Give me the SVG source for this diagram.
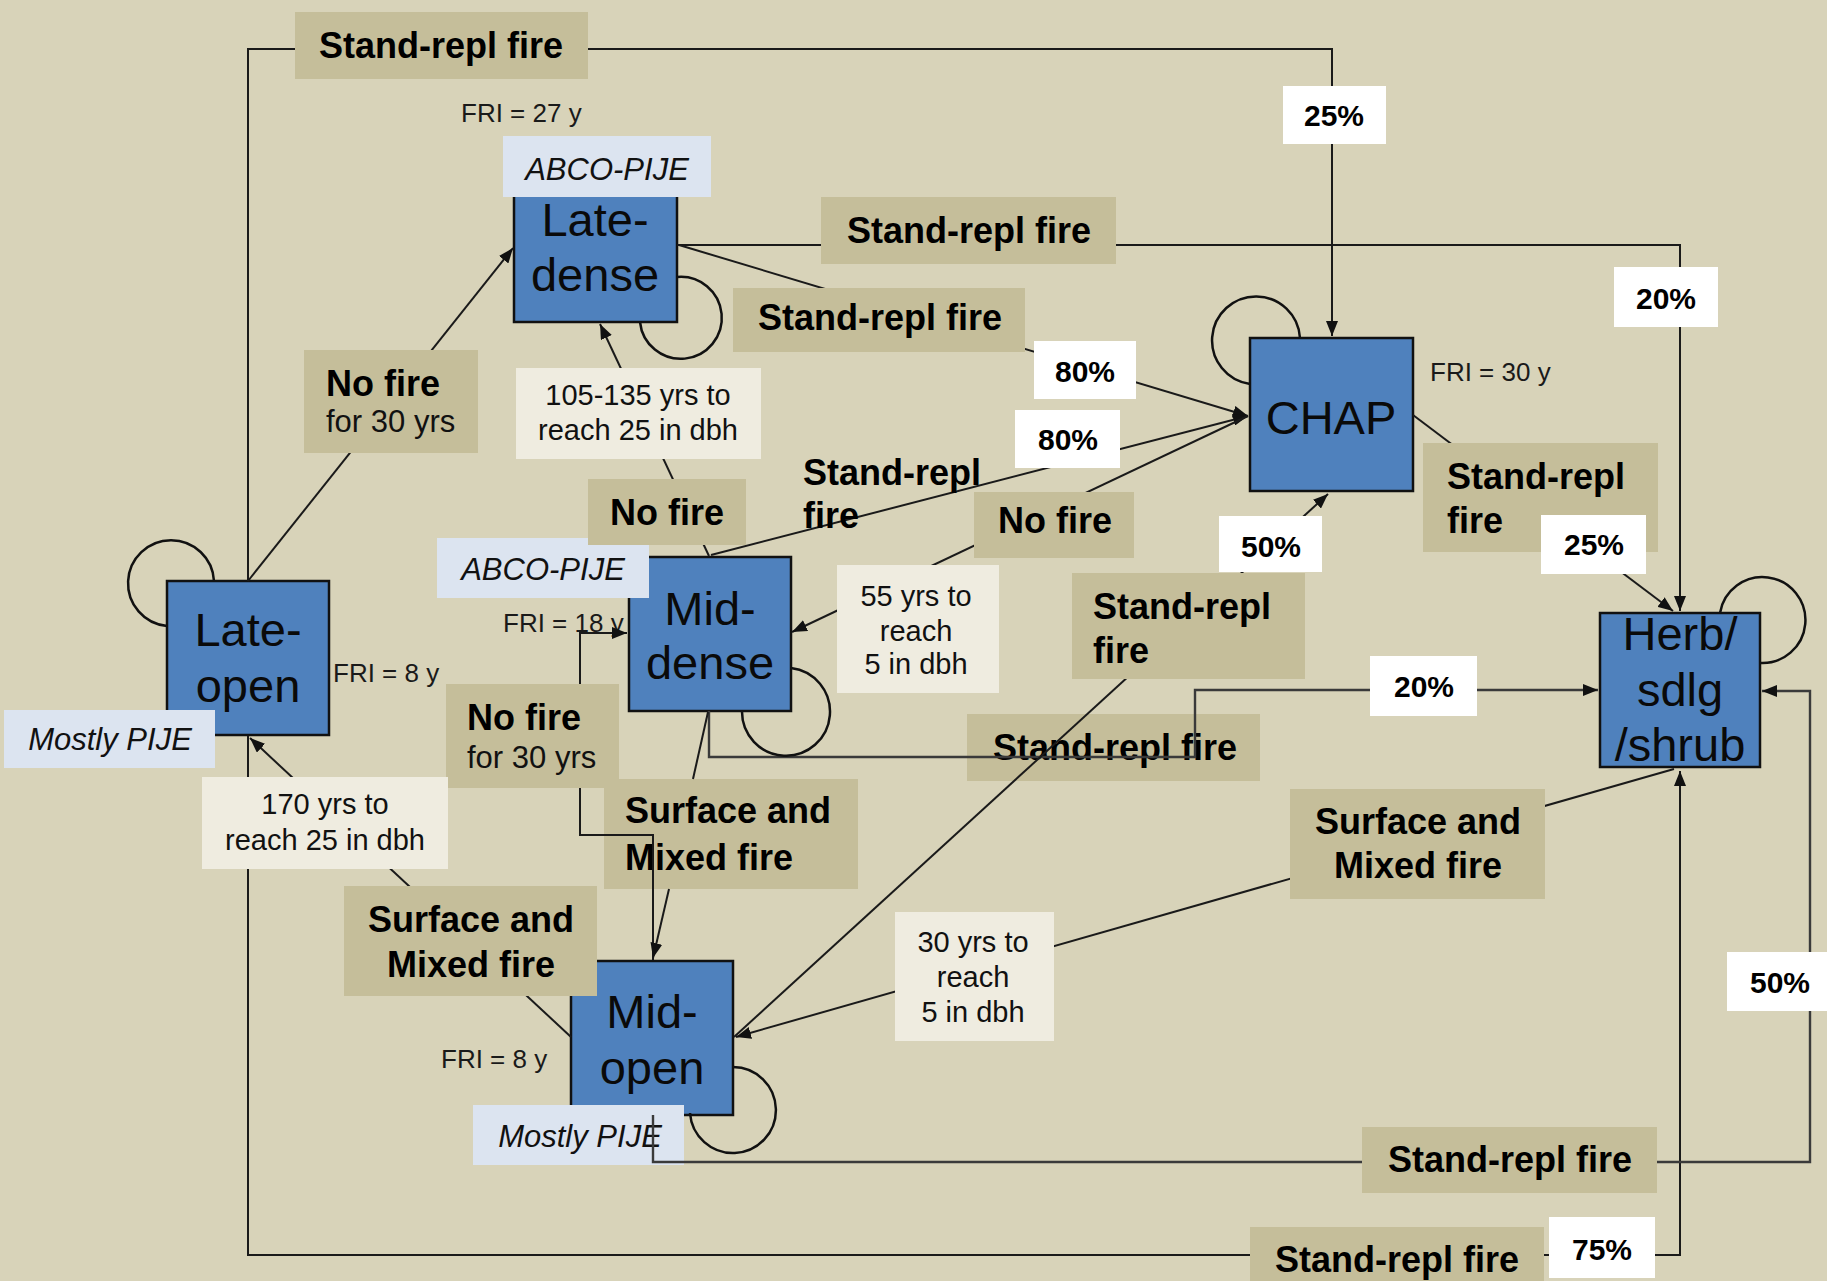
<svg xmlns="http://www.w3.org/2000/svg" width="1827" height="1281" viewBox="0 0 1827 1281">
<defs>
<marker id="arr" markerUnits="userSpaceOnUse" markerWidth="16" markerHeight="12" refX="15" refY="6" orient="auto"><path d="M0,0 L15,6 L0,12 z" fill="#111"/></marker>
<style>
.bg{fill:#D8D3B9}
.node rect.box{fill:#4F81BD;stroke:#111;stroke-width:2.5}
.nt{font-family:"Liberation Sans",Arial,sans-serif;font-size:47px;fill:#0a0a0a;text-anchor:middle}
.tan{fill:#C5BE9A}
.pale{fill:#EFECE0}
.blu{fill:#DCE4F0}
.wht{fill:#FFFFFF}
.b{font-family:"Liberation Sans",Arial,sans-serif;font-weight:bold;font-size:36px;fill:#000}
.r{font-family:"Liberation Sans",Arial,sans-serif;font-size:29px;fill:#111}
.r31{font-family:"Liberation Sans",Arial,sans-serif;font-size:31px;fill:#111}
.it{font-family:"Liberation Sans",Arial,sans-serif;font-style:italic;font-size:31px;fill:#111;text-anchor:middle}
.fri{font-family:"Liberation Sans",Arial,sans-serif;font-size:26px;fill:#1a1a1a}
.pct{font-family:"Liberation Sans",Arial,sans-serif;font-weight:bold;font-size:30px;fill:#000;text-anchor:middle}
.m{text-anchor:middle}
.ln{fill:none;stroke:#1a1a1a;stroke-width:2}
.gl{fill:none;stroke:#3a3a3a;stroke-width:2.4}
.loop{fill:none;stroke:#111;stroke-width:2.5}
</style>
</defs>
<rect class="bg" x="0" y="0" width="1827" height="1281"/>

<g id="late-dense" class="node">
<rect class="box" x="514" y="192" width="163" height="130"/>
<text class="nt" x="595" y="236">Late-</text>
<text class="nt" x="595" y="291">dense</text>
<rect class="blu" x="503" y="136" width="208" height="61"/>
<text class="it" x="607" y="180">ABCO-PIJE</text>
<text class="fri" x="461" y="122">FRI = 27 y</text>
</g>
<g id="late-open" class="node">
<rect class="box" x="167" y="581" width="162" height="154"/>
<text class="nt" x="248" y="646">Late-</text>
<text class="nt" x="248" y="702">open</text>
<rect class="blu" x="4" y="710" width="211" height="58"/>
<text class="it" x="110" y="750">Mostly PIJE</text>
<text class="fri" x="333" y="682">FRI = 8 y</text>
</g>
<g id="mid-dense" class="node">
<rect class="box" x="629" y="557" width="162" height="154"/>
<text class="nt" x="710" y="625">Mid-</text>
<text class="nt" x="710" y="679">dense</text>
<rect class="blu" x="437" y="538" width="212" height="60"/>
<text class="it" x="543" y="580">ABCO-PIJE</text>
<text class="fri" x="503" y="632">FRI = 18 y</text>
</g>
<g id="mid-open" class="node">
<rect class="box" x="571" y="961" width="162" height="154"/>
<text class="nt" x="652" y="1028">Mid-</text>
<text class="nt" x="652" y="1084">open</text>
<rect class="blu" x="473" y="1105" width="211" height="60"/>
<text class="it" x="580" y="1147">Mostly PIJE</text>
<text class="fri" x="441" y="1068">FRI = 8 y</text>
</g>
<g id="chap" class="node">
<rect class="box" x="1250" y="338" width="163" height="153"/>
<text class="nt" x="1331" y="434">CHAP</text>
<text class="fri" x="1430" y="381">FRI = 30 y</text>
</g>
<g id="herb" class="node">
<rect class="box" x="1600" y="613" width="160" height="154"/>
<text class="nt" x="1680" y="650">Herb/</text>
<text class="nt" x="1680" y="706">sdlg</text>
<text class="nt" x="1680" y="761">/shrub</text>
</g>

<g id="labels-under">
<rect class="tan" x="967" y="714" width="293" height="67"/>
<text class="b m" x="1115" y="760">Stand-repl fire</text>
<rect class="tan" x="604" y="779" width="254" height="110"/>
<text class="b" x="625" y="823">Surface and</text>
<text class="b" x="625" y="870">Mixed fire</text>
</g>

<g id="connectors">
<path class="ln" d="M248,581 V49 H1332 V336" marker-end="url(#arr)"/>
<path class="ln" d="M248,736 V1255 H1680 V771" marker-end="url(#arr)"/>
<path class="ln" d="M248,581 L513,248" marker-end="url(#arr)"/>
<path class="ln" d="M677,245 H1680 V611" marker-end="url(#arr)"/>
<path class="ln" d="M679,245 L1248,416" marker-end="url(#arr)"/>
<path class="ln" d="M711,555 L1248,416" marker-end="url(#arr)"/>
<path class="ln" d="M1248,416 L792,632" marker-end="url(#arr)"/>
<path class="ln" d="M709,556 L600,324" marker-end="url(#arr)"/>
<path class="ln" d="M653,960 V835 H580 V633 H627" marker-end="url(#arr)"/>
<path class="gl" d="M709,711 V757 H1195 V690 H1598" marker-end="url(#arr)"/>
<path class="ln" d="M708,712 L693,779"/>
<path class="ln" d="M669,889 L653,958" marker-end="url(#arr)"/>
<path class="ln" d="M734,1037 L1328,494" marker-end="url(#arr)"/>
<path class="gl" d="M653,1115 V1162 H1810 V691 H1762" marker-end="url(#arr)"/>
<path class="ln" d="M1674,769 L736,1037" marker-end="url(#arr)"/>
<path class="ln" d="M571,1037 L250,738" marker-end="url(#arr)"/>
<path class="ln" d="M1413,415 L1673,611" marker-end="url(#arr)"/>
<path class="loop" d="M677,277 A41,41 0 1,1 640,322"/>
<path class="loop" d="M214,581 A43,43 0 1,0 167,626"/>
<path class="loop" d="M791,668 A44,44 0 1,1 742,711"/>
<path class="loop" d="M733,1067 A43,43 0 1,1 690,1113"/>
<path class="loop" d="M1300,338 A44,44 0 1,0 1250,384"/>
<path class="loop" d="M1720,613 A43,43 0 1,1 1760,663"/>
</g>

<g id="labels">
<rect class="tan" x="295" y="12" width="293" height="67"/>
<text class="b m" x="441" y="58">Stand-repl fire</text>
<rect class="tan" x="821" y="197" width="295" height="67"/>
<text class="b m" x="969" y="243">Stand-repl fire</text>
<rect class="tan" x="733" y="288" width="292" height="64"/>
<text class="b m" x="880" y="330">Stand-repl fire</text>
<rect class="tan" x="1362" y="1127" width="295" height="66"/>
<text class="b m" x="1510" y="1172">Stand-repl fire</text>
<rect class="tan" x="1250" y="1227" width="294" height="60"/>
<text class="b m" x="1397" y="1272">Stand-repl fire</text>
<rect class="tan" x="1423" y="443" width="235" height="109"/>
<text class="b" x="1447" y="489">Stand-repl</text>
<text class="b" x="1447" y="533">fire</text>
<rect class="tan" x="1072" y="573" width="233" height="106"/>
<text class="b" x="1093" y="619">Stand-repl</text>
<text class="b" x="1093" y="663">fire</text>
<text class="b" x="803" y="485">Stand-repl</text>
<text class="b" x="803" y="528">fire</text>

<rect class="tan" x="304" y="350" width="174" height="103"/>
<text class="b" x="326" y="396">No fire</text>
<text class="r31" x="326" y="432">for 30 yrs</text>
<rect class="tan" x="446" y="684" width="173" height="104"/>
<text class="b" x="467" y="730">No fire</text>
<text class="r31" x="467" y="768">for 30 yrs</text>
<rect class="tan" x="588" y="479" width="158" height="66"/>
<text class="b m" x="667" y="525">No fire</text>
<rect class="tan" x="974" y="492" width="160" height="66"/>
<text class="b m" x="1055" y="533">No fire</text>

<rect class="tan" x="344" y="886" width="253" height="110"/>
<text class="b m" x="471" y="932">Surface and</text>
<text class="b m" x="471" y="977">Mixed fire</text>
<rect class="tan" x="1290" y="789" width="255" height="110"/>
<text class="b m" x="1418" y="834">Surface and</text>
<text class="b m" x="1418" y="878">Mixed fire</text>

<rect class="pale" x="516" y="368" width="245" height="91"/>
<text class="r m" x="638" y="405">105-135 yrs to</text>
<text class="r m" x="638" y="440">reach 25 in dbh</text>
<rect class="pale" x="202" y="777" width="246" height="92"/>
<text class="r m" x="325" y="814">170 yrs to</text>
<text class="r m" x="325" y="850">reach 25 in dbh</text>
<rect class="pale" x="837" y="565" width="162" height="128"/>
<text class="r m" x="916" y="606">55 yrs to</text>
<text class="r m" x="916" y="641">reach</text>
<text class="r m" x="916" y="674">5 in dbh</text>
<rect class="pale" x="895" y="912" width="159" height="129"/>
<text class="r m" x="973" y="952">30 yrs to</text>
<text class="r m" x="973" y="987">reach</text>
<text class="r m" x="973" y="1022">5 in dbh</text>

<rect class="wht" x="1283" y="86" width="103" height="58"/>
<text class="pct" x="1334" y="126">25%</text>
<rect class="wht" x="1614" y="267" width="104" height="60"/>
<text class="pct" x="1666" y="309">20%</text>
<rect class="wht" x="1034" y="341" width="102" height="58"/>
<text class="pct" x="1085" y="382">80%</text>
<rect class="wht" x="1015" y="410" width="105" height="58"/>
<text class="pct" x="1068" y="450">80%</text>
<rect class="wht" x="1219" y="516" width="103" height="56"/>
<text class="pct" x="1271" y="557">50%</text>
<rect class="wht" x="1541" y="515" width="105" height="59"/>
<text class="pct" x="1594" y="555">25%</text>
<rect class="wht" x="1370" y="656" width="107" height="60"/>
<text class="pct" x="1424" y="697">20%</text>
<rect class="wht" x="1727" y="952" width="100" height="59"/>
<text class="pct" x="1780" y="993">50%</text>
<rect class="wht" x="1549" y="1217" width="106" height="61"/>
<text class="pct" x="1602" y="1260">75%</text>
</g>
</svg>
